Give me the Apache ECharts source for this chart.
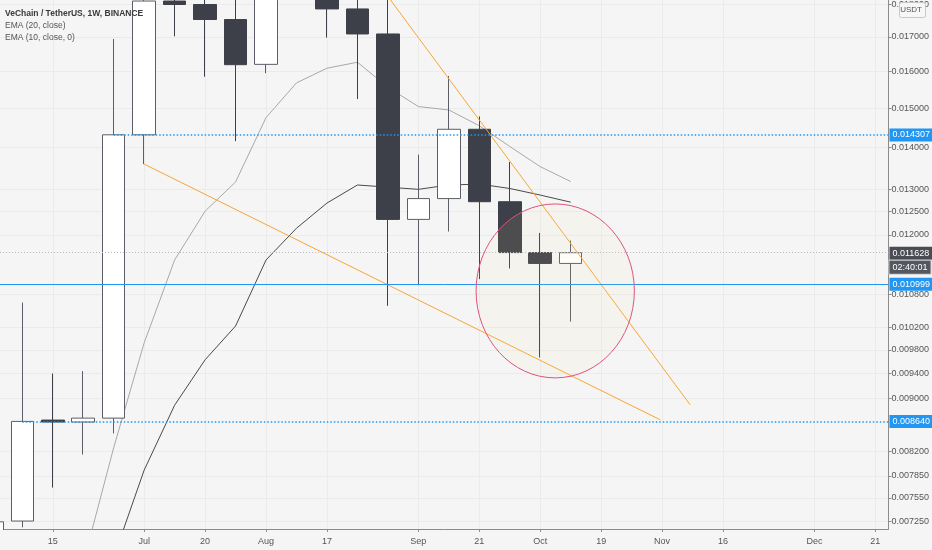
<!DOCTYPE html>
<html><head><meta charset="utf-8">
<script src="https://cdn.jsdelivr.net/npm/echarts@6.0.0/dist/echarts.min.js"></script>
<style>html,body{margin:0;padding:0;background:#f5f5f5}#c{width:932px;height:550px}</style>
</head><body><div id="c"></div><script>
// weekly bars (index 0 = week of 2020-06-01)
const weeks = ['2020-06-01','2020-06-08','2020-06-15','2020-06-22','2020-06-29','2020-07-06','2020-07-13','2020-07-20','2020-07-27','2020-08-03','2020-08-10','2020-08-17','2020-08-24','2020-08-31','2020-09-07','2020-09-14','2020-09-21','2020-09-28','2020-10-05','2020-10-12','2020-10-19','2020-10-26','2020-11-02','2020-11-09','2020-11-16','2020-11-23','2020-11-30','2020-12-07','2020-12-14','2020-12-21'];
const opens  = [0.00680,0.00725,0.00866,0.00863,0.00869,0.01431,0.01811,0.01800,0.01753,0.01620,0.01950,0.02050,0.01786,0.01709,0.01233,0.01279,0.01445,0.01272,0.01163,0.01141];
const closes = [0.00724,0.00864,0.00863,0.00869,0.01431,0.01811,0.01800,0.01753,0.01619,0.01950,0.02050,0.01786,0.01709,0.01233,0.01279,0.01445,0.01272,0.01163,0.01141,0.011628];
const lows   = [0.00660,0.00717,0.00769,0.00815,0.00846,0.01359,0.01702,0.01585,0.01415,0.01595,0.01880,0.01698,0.01524,0.01059,0.01098,0.01207,0.01110,0.01131,0.00967,0.01030];
const highs  = [0.00760,0.01065,0.00940,0.00944,0.01694,0.01860,0.01830,0.01880,0.01850,0.02000,0.02250,0.02150,0.01850,0.01840,0.01382,0.01587,0.01478,0.01364,0.01204,0.01188];
const ema20  = [null,null,null,null,0.00680,0.00793,0.00889,0.00963,0.01022,0.01148,0.01214,0.01269,0.01310,0.01305,0.01300,0.01310,0.01312,0.01302,0.01287,0.01271];
const ema10  = [null,null,null,0.00673,0.00825,0.00992,0.01148,0.01251,0.01317,0.01475,0.01568,0.01609,0.01626,0.01556,0.01504,0.01495,0.01454,0.01402,0.01353,0.01318];
const xTickWeeks  = ['2020-06-15','2020-07-06','2020-07-20','2020-08-03','2020-08-17','2020-09-07','2020-09-21','2020-10-05','2020-10-19','2020-11-02','2020-11-16','2020-12-07','2020-12-21'];
const xTickLabels = ['15','Jul','20','Aug','17','Sep','21','Oct','19','Nov','16','Dec','21'];
const yTicks = [0.018,0.017,0.016,0.015,0.014,0.013,0.0125,0.012,0.0108,0.0102,0.0098,0.0094,0.009,0.0082,0.00785,0.00755,0.00725];
const upperTrend = [[12,0.019628],[22.92,0.008897]];
const lowerTrend = [[5,0.01359],[21.94,0.008664]];
const circleBox = [15.894,0.012670,21.09,0.009328];
const resistanceLevel = 0.014307;
const supportLevel = 0.008640;
const midLevel = 0.010999;
const lastPrice = 0.011628;
const countdown = '02:40:01';
const resistanceStart = 4;
const supportStart = 1;

const xMin = 0.268, xMax = 29.43;
const FONT = "'Liberation Sans',sans-serif";
const xTickIdx = xTickWeeks.map(d => weeks.indexOf(d));
const candleData = opens.map((o, i) => [i, o, closes[i], lows[i], highs[i]]);
const pair = arr => arr.map((v, i) => [i, v]).filter(p => p[1] != null);

const blueBadge = {show:true, position:'end', distance:1, color:'#fff', backgroundColor:'#2196f3', padding:[2,3,2,3], fontSize:9, fontFamily:FONT};

const chart = echarts.init(document.getElementById('c'));
chart.setOption({
  backgroundColor:'#f5f5f5',
  animation:false,
  textStyle:{fontFamily:FONT},
  title:[
    {text:'VeChain / TetherUS, 1W, BINANCE', left:5, top:9, padding:0, textStyle:{fontSize:8.5, fontWeight:'bold', color:'#3a3a3a', fontFamily:FONT}},
    {text:'EMA (20, close)', left:5, top:21, padding:0, textStyle:{fontSize:8.5, fontWeight:'normal', color:'#555', fontFamily:FONT}},
    {text:'EMA (10, close, 0)', left:5, top:33, padding:0, textStyle:{fontSize:8.5, fontWeight:'normal', color:'#555', fontFamily:FONT}}
  ],
  grid:{left:0, right:40, top:0, bottom:21},
  xAxis:{
    type:'value', min:xMin, max:xMax,
    axisLine:{lineStyle:{color:'#8c8c8c'}},
    axisTick:{show:true, length:3, lineStyle:{color:'#8c8c8c'}, customValues:xTickIdx},
    axisLabel:{customValues:xTickIdx, color:'#555', fontSize:9, fontFamily:FONT, margin:8,
      formatter:v => { const i = xTickIdx.indexOf(Math.round(v)); return i >= 0 ? xTickLabels[i] : ''; }},
    splitLine:{show:true, lineStyle:{color:'#ebebeb', width:1}}
  },
  yAxis:{
    type:'log', logBase:10, min:0.007149, max:0.018143, position:'right',
    axisLine:{show:true, lineStyle:{color:'#8c8c8c'}},
    axisTick:{show:true, length:3, lineStyle:{color:'#8c8c8c'}, customValues:yTicks},
    axisLabel:{customValues:yTicks, color:'#555', fontSize:9, fontFamily:FONT, margin:3,
      formatter:v => Number(v).toFixed(6)},
    splitLine:{show:true, lineStyle:{color:'#ebebeb', width:1}},
    minorTick:{show:false}, minorSplitLine:{show:false}
  },
  series:[
    {type:'line', name:'EMA20', data:pair(ema20), showSymbol:false, symbol:'none', z:1,
      lineStyle:{color:'#4a4a4a', width:1}},
    {type:'line', name:'EMA10', data:pair(ema10), showSymbol:false, symbol:'none', z:1,
      lineStyle:{color:'#a8a8a8', width:1}},
    {type:'candlestick', name:'VET', data:candleData, encode:{x:0, y:[1,2,3,4]}, barWidth:23, clip:true, z:3,
      itemStyle:{color:'#ffffff', color0:'#3e4049', borderColor:'#5b5e66', borderColor0:'#3e4049', borderWidth:1},
      markLine:{silent:true, symbol:'none', animation:false, precision:6,
        data:[
          [{coord:[resistanceStart, resistanceLevel], lineStyle:{color:'#2196f3', type:[1.5,2], width:1.5},
             label:Object.assign({}, blueBadge, {formatter:resistanceLevel.toFixed(6)})},
           {coord:[xMax, resistanceLevel]}],
          [{coord:[supportStart, supportLevel], lineStyle:{color:'#2196f3', type:[1.5,2], width:1.5},
             label:Object.assign({}, blueBadge, {formatter:supportLevel.toFixed(6)})},
           {coord:[xMax, supportLevel]}],
          {yAxis:midLevel, lineStyle:{color:'#2196f3', type:'solid', width:1},
             label:Object.assign({}, blueBadge, {formatter:midLevel.toFixed(6)})},
          {yAxis:lastPrice, lineStyle:{color:'#b8bac0', type:[1,2], width:1},
             label:{show:true, position:'end', distance:1, padding:[15,0,0,0], fontFamily:FONT,
               formatter:'{a|' + lastPrice.toFixed(6) + '}\n{b|' + countdown + '}',
               rich:{
                 a:{color:'#fff', backgroundColor:'#4a4c54', padding:[2,3,2,3], fontSize:9, fontFamily:FONT, lineHeight:14},
                 b:{color:'#fff', backgroundColor:'#55575e', borderColor:'#d0d0d0', borderWidth:1, padding:[2,3,2,3], fontSize:9, fontFamily:FONT, lineHeight:14}
               }}}
        ]}
    },
    {type:'line', name:'upper', data:upperTrend, showSymbol:false, symbol:'none', z:4, clip:true,
      lineStyle:{color:'#f7a634', width:1}},
    {type:'line', name:'lower', data:lowerTrend, showSymbol:false, symbol:'none', z:4, clip:true,
      lineStyle:{color:'#f7a634', width:1}},
    {type:'custom', name:'circle', z:5, silent:true, data:[circleBox], encode:{x:[0,2], y:[1,3]},
      renderItem:(params, api) => {
        const p1 = api.coord([api.value(0), api.value(1)]);
        const p2 = api.coord([api.value(2), api.value(3)]);
        return {type:'ellipse',
          shape:{cx:(p1[0]+p2[0])/2, cy:(p1[1]+p2[1])/2, rx:Math.abs(p2[0]-p1[0])/2, ry:Math.abs(p2[1]-p1[1])/2},
          style:{fill:'rgba(255,230,150,0.08)', stroke:'#e0527f', lineWidth:1}};
      }}
  ],
  graphic:[
    // hides the part of the first (cut-off) candle that falls below the plot area
    {type:'rect', left:0, bottom:0, shape:{width:24, height:20}, z:50, silent:true,
      style:{fill:'#f5f5f5'}},
    {type:'rect', right:6, top:2, shape:{width:26, height:15, r:2}, z:100,
      style:{fill:'#f7f7f7', stroke:'#c8c8c8', lineWidth:1}},
    {type:'text', right:10, top:6, z:101, style:{text:'USDT', fill:'#555', fontSize:8, fontFamily:FONT}}
  ]
});
</script></body></html>
